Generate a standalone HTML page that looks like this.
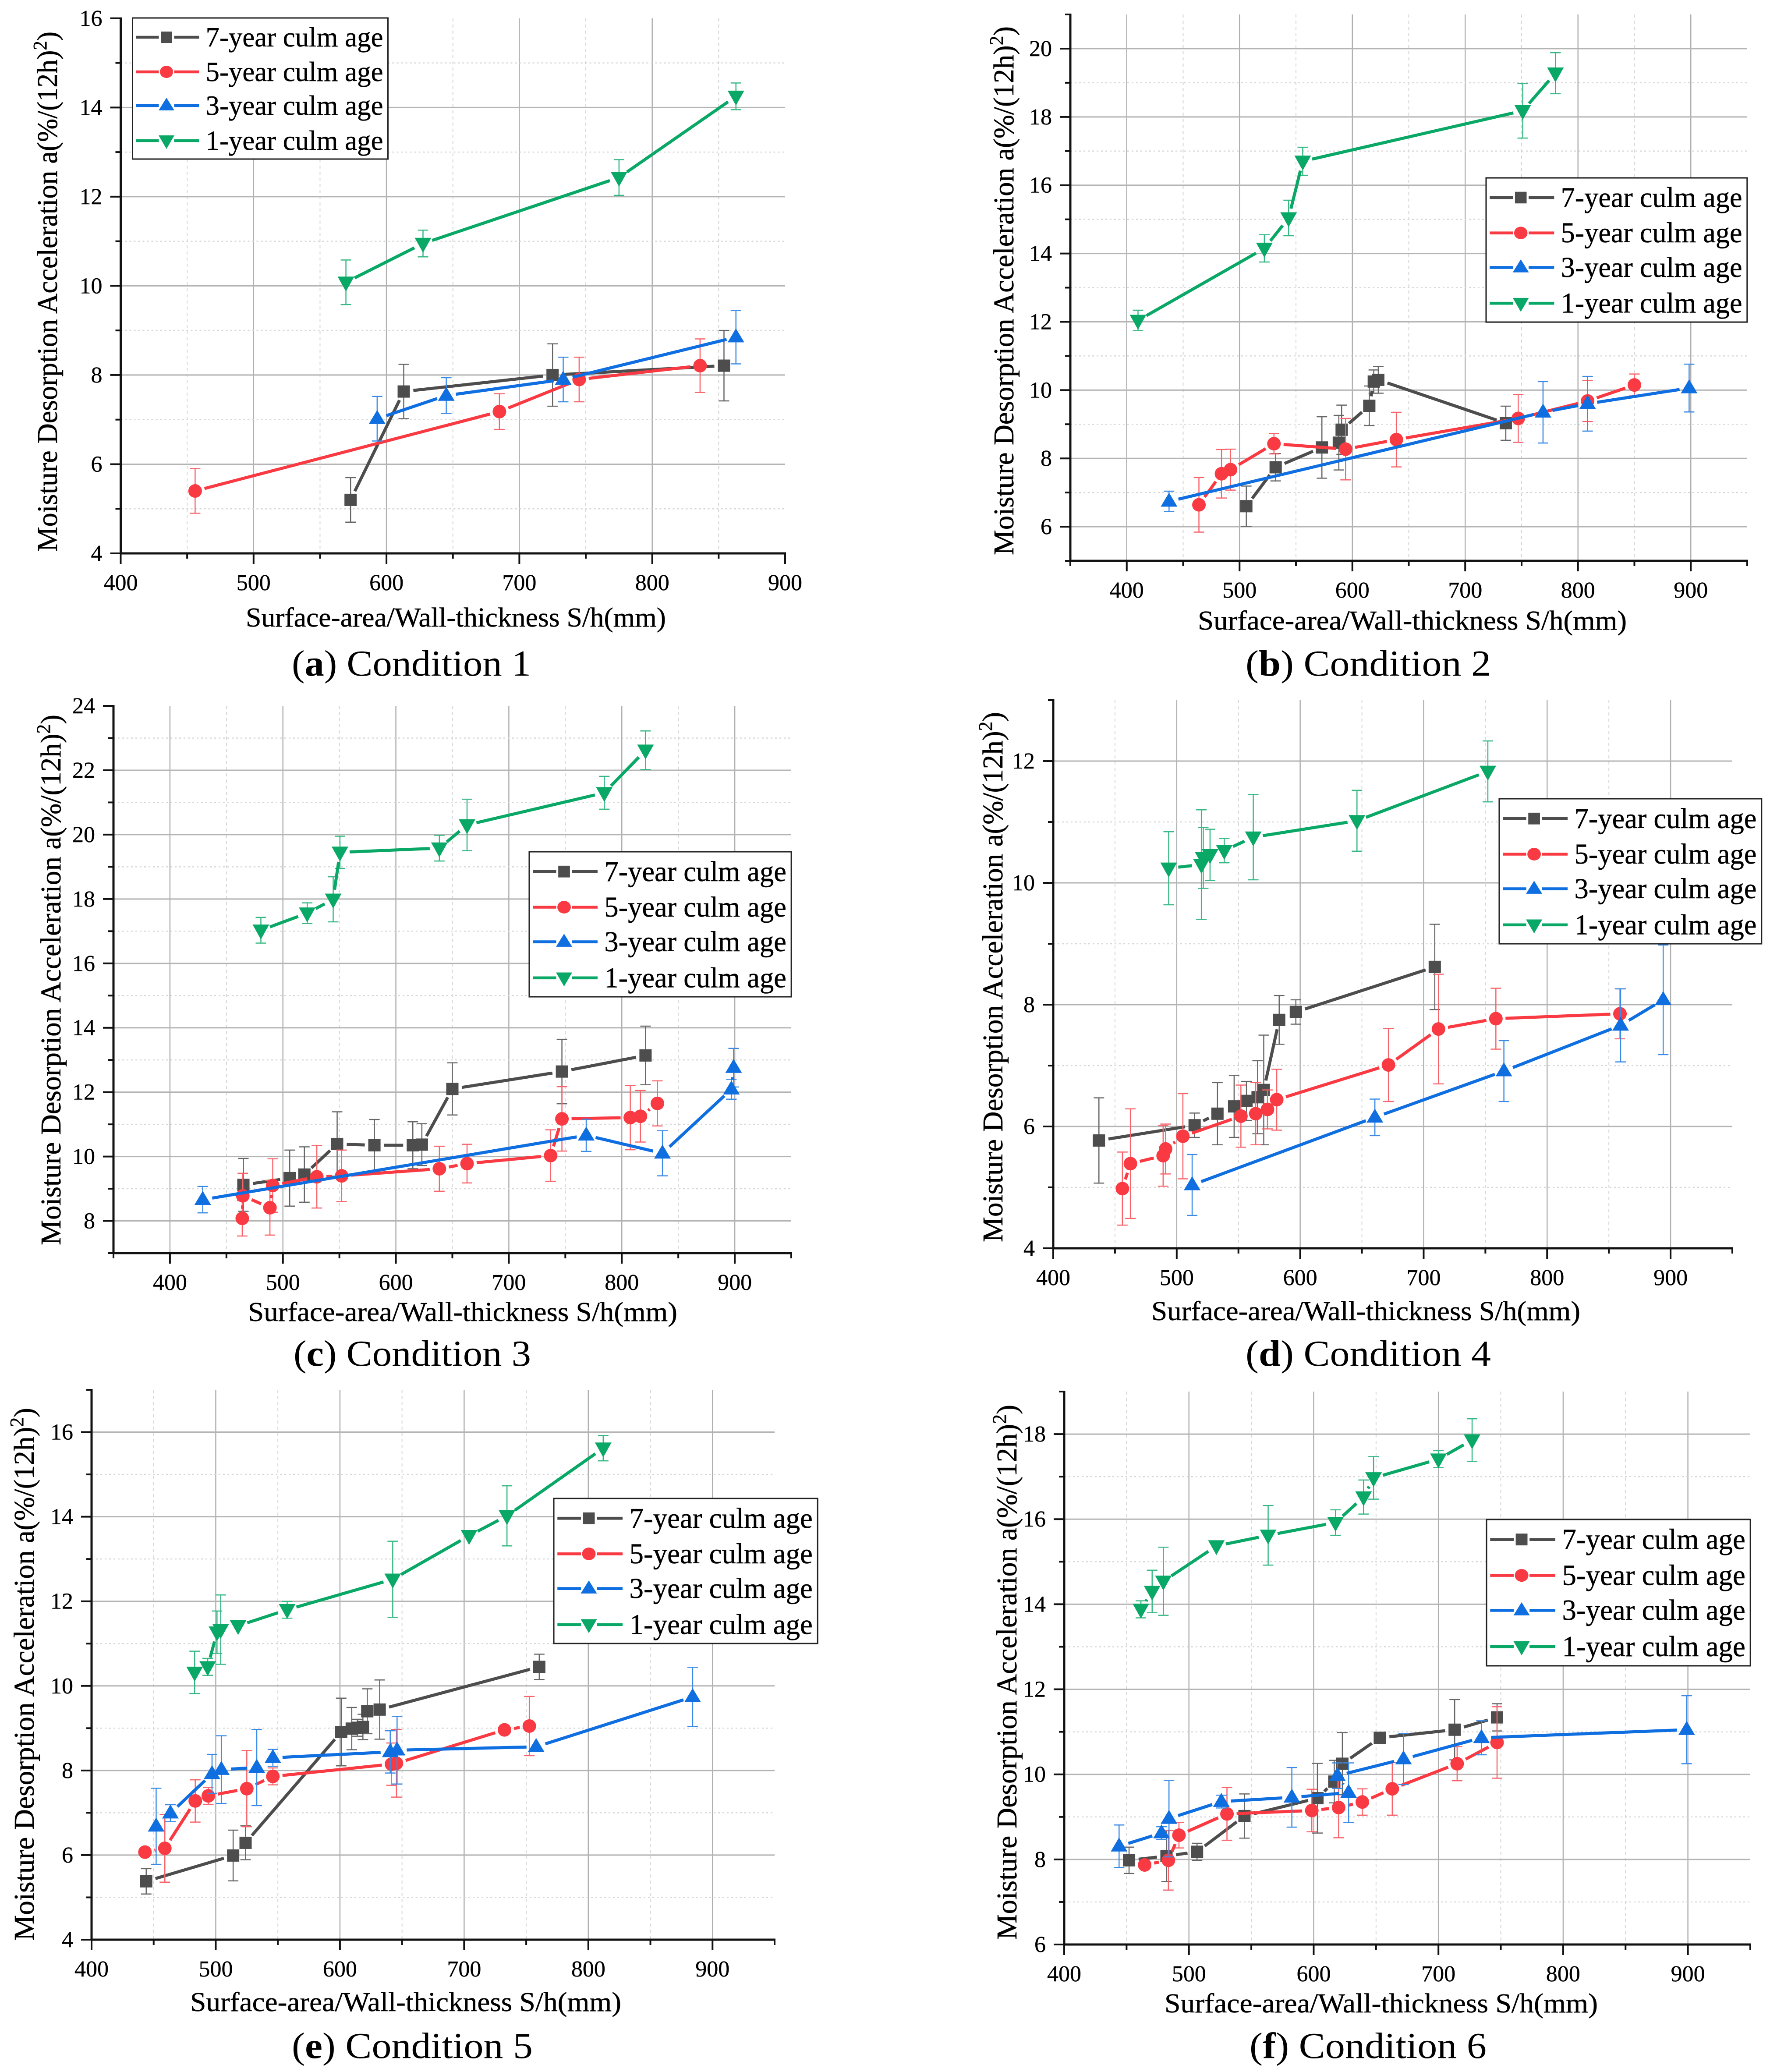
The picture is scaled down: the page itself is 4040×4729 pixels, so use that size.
<!DOCTYPE html>
<html lang="en">
<head>
<meta charset="utf-8">
<title>Moisture desorption acceleration vs surface-area/wall-thickness</title>
<style>
html,body{margin:0;padding:0;background:#fff;}
svg{display:block;}
text{font-family:"Liberation Serif",serif;fill:#000;}
.yt{font-size:66px;stroke:#000;stroke-width:.5px;}
.xt{font-size:62px;stroke:#000;stroke-width:.5px;}
.cap{font-size:84px;}
.lg{font-size:64px;stroke:#000;stroke-width:.5px;}
.tk{font-size:52px;stroke:#000;stroke-width:.4px;}
</style>
</head>
<body>
<svg id="figure" xmlns="http://www.w3.org/2000/svg" width="4040" height="4729" viewBox="0 0 4040 4729">
<rect x="0" y="0" width="4040" height="4729" fill="#fff"/>
<g id="plot-layer"></g>

<defs>
<g id="legend-keys">
<rect x="0" y="0" width="583" height="322" fill="#fff" stroke="#222" stroke-width="3"/>
<path d="M8 44H60M95 44H152" stroke="#4d4d4d" stroke-width="6.5" fill="none"/>
<rect x="64.5" y="31" width="26" height="26" fill="#4d4d4d"/>
<path d="M8 123H60M95 123H152" stroke="#fa3a42" stroke-width="6.5" fill="none"/>
<ellipse cx="77.5" cy="123" rx="15" ry="14" fill="#fa3a42"/>
<path d="M8 200H60M95 200H152" stroke="#0f6ee0" stroke-width="6.5" fill="none"/>
<path d="M77.5 182L95.5 211H59.5Z" fill="#0f6ee0"/>
<path d="M8 280H60M95 280H152" stroke="#0aa866" stroke-width="6.5" fill="none"/>
<path d="M59.5 268H95.5L77.5 299Z" fill="#0aa866"/>
</g>
</defs>

<g>
<text class="yt" transform="translate(130 1259) rotate(-90)" textLength="1187" lengthAdjust="spacingAndGlyphs">Moisture Desorption Acceleration a(%/(12h)<tspan dy="-24" font-size="44">2</tspan><tspan dy="24">)</tspan></text>
<text class="xt" x="561" y="1430" textLength="959" lengthAdjust="spacingAndGlyphs">Surface-area/Wall-thickness S/h(mm)</text>
<text class="cap" x="666" y="1542" textLength="546" lengthAdjust="spacingAndGlyphs">(<tspan font-weight="bold">a</tspan>) Condition 1</text>
<g transform="translate(302.5 41)">
<use href="#legend-keys"/>
<text class="lg" x="167" y="65" textLength="405" lengthAdjust="spacingAndGlyphs">7-year culm age</text>
<text class="lg" x="167" y="144" textLength="405" lengthAdjust="spacingAndGlyphs">5-year culm age</text>
<text class="lg" x="167" y="221" textLength="405" lengthAdjust="spacingAndGlyphs">3-year culm age</text>
<text class="lg" x="167" y="301" textLength="405" lengthAdjust="spacingAndGlyphs">1-year culm age</text>
</g>
</g>

<g>
<text class="yt" transform="translate(2313 1267) rotate(-90)" textLength="1207" lengthAdjust="spacingAndGlyphs">Moisture Desorption Acceleration a(%/(12h)<tspan dy="-24" font-size="44">2</tspan><tspan dy="24">)</tspan></text>
<text class="xt" x="2734" y="1437" textLength="979" lengthAdjust="spacingAndGlyphs">Surface-area/Wall-thickness S/h(mm)</text>
<text class="cap" x="2843" y="1542" textLength="560" lengthAdjust="spacingAndGlyphs">(<tspan font-weight="bold">b</tspan>) Condition 2</text>
<g transform="translate(3392 406) scale(1.022 1.022)">
<use href="#legend-keys"/>
<text class="lg" x="167" y="65" textLength="405" lengthAdjust="spacingAndGlyphs">7-year culm age</text>
<text class="lg" x="167" y="144" textLength="405" lengthAdjust="spacingAndGlyphs">5-year culm age</text>
<text class="lg" x="167" y="221" textLength="405" lengthAdjust="spacingAndGlyphs">3-year culm age</text>
<text class="lg" x="167" y="301" textLength="405" lengthAdjust="spacingAndGlyphs">1-year culm age</text>
</g>
</g>

<g>
<text class="yt" transform="translate(138 2842) rotate(-90)" textLength="1211" lengthAdjust="spacingAndGlyphs">Moisture Desorption Acceleration a(%/(12h)<tspan dy="-24" font-size="44">2</tspan><tspan dy="24">)</tspan></text>
<text class="xt" x="566" y="3015" textLength="980" lengthAdjust="spacingAndGlyphs">Surface-area/Wall-thickness S/h(mm)</text>
<text class="cap" x="670" y="3117" textLength="542" lengthAdjust="spacingAndGlyphs">(<tspan font-weight="bold">c</tspan>) Condition 3</text>
<g transform="translate(1208 1944) scale(1.026 1.028)">
<use href="#legend-keys"/>
<text class="lg" x="167" y="65" textLength="405" lengthAdjust="spacingAndGlyphs">7-year culm age</text>
<text class="lg" x="167" y="144" textLength="405" lengthAdjust="spacingAndGlyphs">5-year culm age</text>
<text class="lg" x="167" y="221" textLength="405" lengthAdjust="spacingAndGlyphs">3-year culm age</text>
<text class="lg" x="167" y="301" textLength="405" lengthAdjust="spacingAndGlyphs">1-year culm age</text>
</g>
</g>

<g>
<text class="yt" transform="translate(2288 2835) rotate(-90)" textLength="1210" lengthAdjust="spacingAndGlyphs">Moisture Desorption Acceleration a(%/(12h)<tspan dy="-24" font-size="44">2</tspan><tspan dy="24">)</tspan></text>
<text class="xt" x="2628" y="3013" textLength="979" lengthAdjust="spacingAndGlyphs">Surface-area/Wall-thickness S/h(mm)</text>
<text class="cap" x="2843" y="3117" textLength="560" lengthAdjust="spacingAndGlyphs">(<tspan font-weight="bold">d</tspan>) Condition 4</text>
<g transform="translate(3422 1823) scale(1.027 1.028)">
<use href="#legend-keys"/>
<text class="lg" x="167" y="65" textLength="405" lengthAdjust="spacingAndGlyphs">7-year culm age</text>
<text class="lg" x="167" y="144" textLength="405" lengthAdjust="spacingAndGlyphs">5-year culm age</text>
<text class="lg" x="167" y="221" textLength="405" lengthAdjust="spacingAndGlyphs">3-year culm age</text>
<text class="lg" x="167" y="301" textLength="405" lengthAdjust="spacingAndGlyphs">1-year culm age</text>
</g>
</g>

<g>
<text class="yt" transform="translate(77 4429) rotate(-90)" textLength="1216" lengthAdjust="spacingAndGlyphs">Moisture Desorption Acceleration a(%/(12h)<tspan dy="-24" font-size="44">2</tspan><tspan dy="24">)</tspan></text>
<text class="xt" x="434" y="4590" textLength="984" lengthAdjust="spacingAndGlyphs">Surface-area/Wall-thickness S/h(mm)</text>
<text class="cap" x="666" y="4697" textLength="550" lengthAdjust="spacingAndGlyphs">(<tspan font-weight="bold">e</tspan>) Condition 5</text>
<g transform="translate(1264 3420) scale(1.033 1.028)">
<use href="#legend-keys"/>
<text class="lg" x="167" y="65" textLength="405" lengthAdjust="spacingAndGlyphs">7-year culm age</text>
<text class="lg" x="167" y="144" textLength="405" lengthAdjust="spacingAndGlyphs">5-year culm age</text>
<text class="lg" x="167" y="221" textLength="405" lengthAdjust="spacingAndGlyphs">3-year culm age</text>
<text class="lg" x="167" y="301" textLength="405" lengthAdjust="spacingAndGlyphs">1-year culm age</text>
</g>
</g>

<g>
<text class="yt" transform="translate(2320 4427) rotate(-90)" textLength="1221" lengthAdjust="spacingAndGlyphs">Moisture Desorption Acceleration a(%/(12h)<tspan dy="-24" font-size="44">2</tspan><tspan dy="24">)</tspan></text>
<text class="xt" x="2658" y="4593" textLength="989" lengthAdjust="spacingAndGlyphs">Surface-area/Wall-thickness S/h(mm)</text>
<text class="cap" x="2852" y="4697" textLength="541" lengthAdjust="spacingAndGlyphs">(<tspan font-weight="bold">f</tspan>) Condition 6</text>
<g transform="translate(3393 3468) scale(1.033 1.037)">
<use href="#legend-keys"/>
<text class="lg" x="167" y="65" textLength="405" lengthAdjust="spacingAndGlyphs">7-year culm age</text>
<text class="lg" x="167" y="144" textLength="405" lengthAdjust="spacingAndGlyphs">5-year culm age</text>
<text class="lg" x="167" y="221" textLength="405" lengthAdjust="spacingAndGlyphs">3-year culm age</text>
<text class="lg" x="167" y="301" textLength="405" lengthAdjust="spacingAndGlyphs">1-year culm age</text>
</g>
</g>
</svg>

<script>
// ---------- Condition 1 ----------
const c1a7x=[573,613,725,854];
const c1a7y=[5.2,7.63,8.0,8.21];
const c1a7e=[.5,.61,.7,.79];
const c1a5x=[456,685,745,836];
const c1a5y=[5.4,7.18,7.9,8.21];
const c1a5e=[.5,.4,.5,.6];
const c1a3x=[593,645,733,863];
const c1a3y=[7.02,7.54,7.9,8.85];
const c1a3e=[.5,.4,.5,.6];
const c1a1x=[569.5,627.5,775,863];
const c1a1y=[10.08,10.95,12.43,14.25];
const c1a1e=[.5,.3,.4,.3];
// ---------- Condition 2 ----------
const c2a7x=[506,532,573,588,590.5,615,619,623,736];
const c2a7y=[6.6,7.74,8.32,8.46,8.84,9.54,10.25,10.3,9.03];
const c2a7e=[.59,.4,.9,.8,.72,.58,.34,.39,.5];
const c2a5x=[464,484,492,530.5,594,639,747,808.5,850];
const c2a5y=[6.64,7.55,7.67,8.43,8.27,8.55,9.17,9.68,10.15];
const c2a5e=[.8,.71,.6,.3,.9,.8,.7,.6,.32];
const c2a3x=[437.5,769,808.5,898.5];
const c2a3y=[6.74,9.35,9.6,10.06];
const c2a3e=[.3,.9,.8,.7];
const c2a1x=[410,522,543.5,556,751,780];
const c2a1y=[12.04,14.15,15.04,16.7,18.18,19.28];
const c2a1e=[.3,.4,.52,.41,.8,.6];
// ---------- Condition 3 ----------
const c3a7x=[465,506,519,548,581,615,623,650,747,821];
const c3a7y=[9.12,9.33,9.44,10.39,10.35,10.35,10.37,12.1,12.64,13.14];
const c3a7e=[.82,.87,.86,1,.8,.73,.65,.81,1,.91];
const c3a5x=[464,464.5,488.5,491,530,552,638.5,663,737,747,807.5,816.5,831.5];
const c3a5y=[8.08,8.78,8.41,9.1,9.37,9.4,9.62,9.78,10.03,11.17,11.21,11.25,11.65];
const c3a5e=[.55,.7,.85,.83,.97,.8,.7,.6,.8,1,1,.8,.7];
const c3a3x=[429,768.5,836,897,899];
const c3a3y=[8.66,10.66,10.1,12.09,12.76];
const c3a3e=[.41,.5,.7,.31,.6];
const c3a1x=[480.5,521.5,544.5,550.5,638.5,663,784.5,821];
const c3a1y=[17.03,17.56,17.99,19.45,19.58,20.3,21.3,22.62];
const c3a1e=[.4,.32,.7,.5,.4,.8,.51,.6];
// ---------- Condition 4 ----------
const c4a7x=[437,514.5,533,546.5,556.5,565.5,570.5,583,596.5,709];
const c4a7y=[5.77,6.02,6.21,6.33,6.42,6.48,6.6,7.75,7.88,8.62];
const c4a7e=[.7,.2,.51,.51,.32,.6,.9,.4,.2,.7];
const c4a5x=[456,462.5,489,491,505,552,564,573.5,581,671.5,712,758.5,859];
const c4a5y=[4.98,5.39,5.52,5.63,5.84,6.17,6.21,6.28,6.44,7.01,7.6,7.77,7.85];
const c4a5e=[.6,.9,.5,.41,.7,.51,.51,.32,.5,.6,.9,.5,.41];
const c4a3x=[512.5,660.5,765,859.5,894];
const c4a3y=[5.04,6.15,6.91,7.66,8.08];
const c4a3e=[.5,.3,.5,.6,.9];
const c4a1x=[493.5,520,521.5,527,538.5,562,646,752];
const c4a1y=[10.24,10.3,10.41,10.46,10.53,10.75,11.02,11.83];
const c4a1e=[.6,.9,.5,.42,.2,.7,.5,.5];
// ---------- Condition 5 ----------
const c5a7x=[444,514,524,601,609.5,614,618.5,622,632,760.5];
const c5a7y=[5.38,5.99,6.29,8.91,8.99,9.01,9.03,9.4,9.44,10.45];
const c5a7e=[.3,.6,.4,.8,.5,.2,.3,.53,.7,.3];
const c5a5x=[443,459,483.5,494,525,546,641.5,645.5,732.5,752.5];
const c5a5y=[6.07,6.16,7.28,7.4,7.57,7.86,8.15,8.17,8.96,9.05];
const c5a5e=[0,.8,.5,.2,.9,.2,.5,.8,0,.7];
const c5a3x=[452,463.5,497,504.5,533,546,640.5,646,758,884];
const c5a3y=[6.68,6.99,7.92,8.02,8.07,8.3,8.44,8.48,8.56,9.74];
const c5a3e=[.9,.2,.46,.8,.9,.2,.5,.8,0,.7];
const c5a1x=[483,493.5,501,504,518,557.5,642.5,704,734.5,812];
const c5a1y=[10.32,10.45,11.27,11.33,11.42,11.8,12.52,13.55,14.02,15.62];
const c5a1e=[.5,.2,.5,.82,0,.2,.9,0,.71,.3];
// ---------- Condition 6 ----------
const c6a7x=[452,482,506.5,544.5,603,616.5,623,653,713,747];
const c6a7y=[7.98,8.08,8.18,9.02,9.44,9.83,10.25,10.86,11.05,11.34];
const c6a7e=[.31,.6,.2,.52,.82,.5,.73,0,.71,.32];
const c6a5x=[464.5,483.5,492,530.5,598.5,620,639,663,715,747];
const c6a5y=[7.87,7.98,8.57,9.07,9.15,9.22,9.35,9.66,10.25,10.75];
const c6a5e=[0,.7,.3,.62,.5,.71,.31,.62,.4,.84];
const c6a3x=[444,478,484,526,582.5,628,619,672,734.5,899];
const c6a3y=[8.31,8.62,8.96,9.36,9.46,9.57,9.97,10.36,10.86,11.05];
const c6a3e=[.5,.15,.9,.15,.7,.7,.3,.6,.4,.8];
const c6a1x=[461.5,470.5,479.5,522,563.5,617.5,640,648,700,727];
const c6a1y=[13.88,14.3,14.54,15.37,15.62,15.92,16.52,16.97,17.41,17.86];
const c6a1e=[.2,.5,.8,0,.7,.3,.4,.5,.2,.5];

// Axis tick labels
const xTickValues=[400,500,600,700,800,900];
const yTicks1=[4,6,8,10,12,14,16];
const yTicks2=[6,8,10,12,14,16,18,20];
const yTicks3=[8,10,12,14,16,18,20,22,24];
const yTicks4=[4,6,8,10,12];
const yTicks5=[4,6,8,10,12,14,16];
const yTicks6=[6,8,10,12,14,16,18];

// Axis frames (data domain and the pixel rectangle it maps onto)
const frames=[
 {xd:[400,900],yd:[4,16],l:275.5,r:1792,t:41.8,b:1263,yTicks:yTicks1},
 {xd:[350,950],yd:[5,21],l:2443,r:3988,t:33,b:1280,yTicks:yTicks2},
 {xd:[350,950],yd:[7,24],l:259,r:1806,t:1611,b:2860,yTicks:yTicks3},
 {xd:[400,950],yd:[4,13],l:2404,r:3954,t:1598,b:2849,yTicks:yTicks4},
 {xd:[400,950],yd:[4,17],l:209,r:1768,t:3172,b:4427,yTicks:yTicks5},
 {xd:[400,950],yd:[6,19],l:2429,r:3995,t:3176,b:4438,yTicks:yTicks6}
];
const panelSeries=[
 [[c1a7x,c1a7y,c1a7e],[c1a5x,c1a5y,c1a5e],[c1a3x,c1a3y,c1a3e],[c1a1x,c1a1y,c1a1e]],
 [[c2a7x,c2a7y,c2a7e],[c2a5x,c2a5y,c2a5e],[c2a3x,c2a3y,c2a3e],[c2a1x,c2a1y,c2a1e]],
 [[c3a7x,c3a7y,c3a7e],[c3a5x,c3a5y,c3a5e],[c3a3x,c3a3y,c3a3e],[c3a1x,c3a1y,c3a1e]],
 [[c4a7x,c4a7y,c4a7e],[c4a5x,c4a5y,c4a5e],[c4a3x,c4a3y,c4a3e],[c4a1x,c4a1y,c4a1e]],
 [[c5a7x,c5a7y,c5a7e],[c5a5x,c5a5y,c5a5e],[c5a3x,c5a3y,c5a3e],[c5a1x,c5a1y,c5a1e]],
 [[c6a7x,c6a7y,c6a7e],[c6a5x,c6a5y,c6a5e],[c6a3x,c6a3y,c6a3e],[c6a1x,c6a1y,c6a1e]]
];
const seriesColors=['#4d4d4d','#fa3a42','#0f6ee0','#0aa866'];
const errorColors=['#666666','#f9636a','#3a8ae6','#35b883'];

const NS='http://www.w3.org/2000/svg';
const layer=document.getElementById('plot-layer');
function svgEl(tag,attrs,parent){
  const el=document.createElementNS(NS,tag);
  for(const k in attrs){el.setAttribute(k,attrs[k]);}
  parent.appendChild(el);
  return el;
}
function drawFrame(f,g,sx,sy){
  const minorStep=50;
  for(let v=f.xd[0];v<f.xd[1];v+=minorStep){
    if(v===f.xd[0])continue;
    const major=v%100===0;
    const el=svgEl('line',{x1:sx(v),x2:sx(v),y1:f.t,y2:f.b,stroke:major?'#b0b0b0':'#d6d6d6','stroke-width':major?2.5:2,'stroke-dasharray':major?'none':'7 7'},g);
    
    
  }
  for(let v=f.yd[0];v<f.yd[1];v+=1){
    if(v===f.yd[0])continue;
    const major=v%2===0;
    const el=svgEl('line',{x1:f.l,x2:f.r,y1:sy(v),y2:sy(v),stroke:major?'#b4b4b4':'#d6d6d6','stroke-width':major?3:2.5,'stroke-dasharray':major?'none':'4 6'},g);
    
    
  }
}
function drawAxes(f,g,sx,sy){
  for(let v=f.xd[0];v<=f.xd[1];v+=50){
    const major=v%100===0;
    const el=svgEl('line',{x1:sx(v),x2:sx(v),y1:f.b,y2:f.b+(major?24:12),stroke:'#111','stroke-width':4},g);
    
    
  }
  for(let v=f.yd[0];v<=f.yd[1];v+=1){
    const major=v%2===0;
    const el=svgEl('line',{x1:f.l-(major?24:12),x2:f.l,y1:sy(v),y2:sy(v),stroke:'#111','stroke-width':4},g);
    
    
  }
  const xAxis=svgEl('line',{x1:f.l-2,x2:f.r+2,y1:f.b,y2:f.b,stroke:'#111','stroke-width':5},g);
  
  
  const yAxis=svgEl('line',{x1:f.l,x2:f.l,y1:f.t-2,y2:f.b+2,stroke:'#111','stroke-width':5},g);
  
  
  xTickValues.forEach(function(v){
    const t=svgEl('text',{x:sx(v),y:f.b+84,'text-anchor':'middle','class':'tk'},g);
    
    
    t.textContent=v;
  });
  f.yTicks.forEach(function(v){
    const t=svgEl('text',{x:f.l-42,y:sy(v)+17,'text-anchor':'end','class':'tk'},g);
    
    
    t.textContent=v;
  });
}
function drawMarker(kind,px,py,color,g){
  let el;
  if(kind===0){
    el=svgEl('rect',{x:px-14,y:py-14,width:28,height:28,fill:color},g);
  }else if(kind===1){
    el=svgEl('circle',{cx:px,cy:py,r:15.5,fill:color},g);
  }else if(kind===2){
    el=svgEl('path',{d:'M'+px+' '+(py-20)+'L'+(px+19)+' '+(py+12)+'L'+(px-19)+' '+(py+12)+'Z',fill:color},g);
  }else{
    el=svgEl('path',{d:'M'+(px-19)+' '+(py-13)+'L'+(px+19)+' '+(py-13)+'L'+px+' '+(py+21)+'Z',fill:color},g);
  }
  
  
}
function drawSeries(kind,s,g,sx,sy){
  const xs=s[0],ys=s[1],es=s[2];
  const color=seriesColors[kind];
  xs.forEach(function(x,i){
    if(!es[i])return;
    const px=sx(x),hi=sy(ys[i]+es[i]),lo=sy(ys[i]-es[i]);
    const bar=svgEl('path',{d:'M'+px+' '+hi+'V'+lo+'M'+(px-12)+' '+hi+'H'+(px+12)+'M'+(px-12)+' '+lo+'H'+(px+12),stroke:errorColors[kind],'stroke-width':2.5,fill:'none'},g);
    
    
  });
  const gap=22;
  for(let i=0;i<xs.length-1;i++){
    const x1=sx(xs[i]),y1=sy(ys[i]),x2=sx(xs[i+1]),y2=sy(ys[i+1]);
    const len=Math.hypot(x2-x1,y2-y1);
    if(len<=gap*2)continue;
    const ux=(x2-x1)/len,uy=(y2-y1)/len;
    const seg=svgEl('line',{x1:x1+ux*gap,y1:y1+uy*gap,x2:x2-ux*gap,y2:y2-uy*gap,stroke:color,'stroke-width':7},g);
    
    
  }
  xs.forEach(function(x,i){drawMarker(kind,sx(x),sy(ys[i]),color,g);});
}
frames.forEach(function(f,p){
  const sx=function(v){return f.l+(v-f.xd[0])/(f.xd[1]-f.xd[0])*(f.r-f.l);};
  const sy=function(v){return f.b-(v-f.yd[0])/(f.yd[1]-f.yd[0])*(f.b-f.t);};
  const g=svgEl('g',{},layer);
  
  
  drawFrame(f,g,sx,sy);
  panelSeries[p].forEach(function(s,k){
    const sg=svgEl('g',{},g);
    
    
    drawSeries(k,s,sg,sx,sy);
  });
  drawAxes(f,g,sx,sy);
});
</script>
</body>
</html>
